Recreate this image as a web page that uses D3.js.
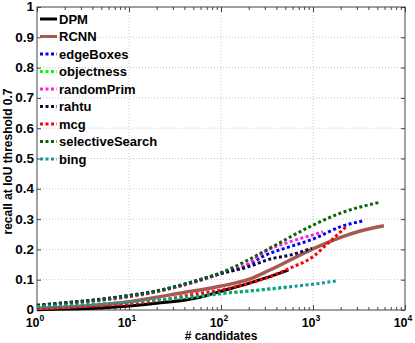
<!DOCTYPE html>
<html>
<head>
<meta charset="utf-8">
<script src="https://cdn.jsdelivr.net/npm/d3@7"></script>
<style>
  body { margin: 0; background: #fff; }
  text { font-family: "Liberation Sans", Arial, sans-serif; font-weight: bold; fill: #000; }
</style>
</head>
<body>
<div class="container"></div>
<script>
// values
const methods = ["DPM", "RCNN", "edgeBoxes", "objectness", "randomPrim", "rahtu", "mcg", "selectiveSearch", "bing"];

const dpmN = [1, 2, 5, 10, 20, 59, 100, 200, 300, 540];
const dpmRecall = [0.001, 0.003, 0.007, 0.013, 0.022, 0.042, 0.062, 0.088, 0.105, 0.132];

const rcnnN = [1, 2, 5, 10, 20, 40, 59, 100, 200, 340, 1000, 2000, 3200, 5900];
const rcnnRecall = [0.005, 0.009, 0.017, 0.027, 0.042, 0.058, 0.066, 0.079, 0.101, 0.132, 0.202, 0.24, 0.26, 0.278];

const edgeBoxesN = [1, 2, 5, 10, 20, 59, 100, 200, 290, 560, 1000, 2000, 3470];
const edgeBoxesRecall = [0.015, 0.023, 0.035, 0.047, 0.062, 0.099, 0.122, 0.15, 0.178, 0.209, 0.234, 0.275, 0.294];

const objectnessN = [1, 2, 5, 10, 20, 59, 100, 200, 560];
const objectnessRecall = [0.01, 0.013, 0.019, 0.025, 0.032, 0.045, 0.053, 0.062, 0.075];

const randomPrimN = [1, 2, 5, 10, 20, 59, 100, 200, 290, 560, 1000, 1290];
const randomPrimRecall = [0.011, 0.02, 0.032, 0.043, 0.06, 0.097, 0.12, 0.154, 0.19, 0.225, 0.248, 0.258];

const rahtuN = [1, 2, 5, 10, 20, 59, 100, 200, 340, 560, 970];
const rahtuRecall = [0.016, 0.024, 0.036, 0.048, 0.063, 0.1, 0.12, 0.143, 0.168, 0.181, 0.204];

const mcgN = [1, 2, 5, 10, 20, 59, 100, 200, 340, 560, 1000, 1450, 2340];
const mcgRecall = [0.006, 0.009, 0.014, 0.02, 0.03, 0.055, 0.066, 0.088, 0.11, 0.138, 0.176, 0.22, 0.277];

const ssN = [1, 2, 5, 10, 20, 59, 100, 200, 340, 1000, 2000, 5250];
const ssRecall = [0.013, 0.022, 0.034, 0.046, 0.062, 0.1, 0.123, 0.166, 0.204, 0.28, 0.32, 0.355];

const bingN = [1, 2, 5, 10, 20, 59, 100, 200, 560, 1000, 1880];
const bingRecall = [0.011, 0.014, 0.02, 0.026, 0.033, 0.047, 0.055, 0.063, 0.077, 0.085, 0.097];

const yTicks = [0, 0.1, 0.2, 0.3, 0.4, 0.5, 0.6, 0.7, 0.8, 0.9, 1];
const xTicks = [1, 10, 100, 1000, 10000];

const colors = ["#000000", "#a35a50", "#0000ff", "#00ff00", "#ff22dd", "#0a0a40", "#ff0000", "#0a640a", "#129999"];
const dotted = [false, false, true, true, true, true, true, true, true];

const series = [
    [dpmN, dpmRecall], [rcnnN, rcnnRecall], [edgeBoxesN, edgeBoxesRecall],
    [objectnessN, objectnessRecall], [randomPrimN, randomPrimRecall], [rahtuN, rahtuRecall],
    [mcgN, mcgRecall], [ssN, ssRecall], [bingN, bingRecall]
].map((s, i) => ({
    name: methods[i],
    points: s[0].map((n, j) => ({n: n, r: s[1][j]}))
}));

const W = 415, H = 343;
const margin = {top: 7, right: 10, bottom: 33, left: 37};

const svg = d3.select('.container')
    .append('svg')
    .attr('width', W)
    .attr('height', H);

const xScale = d3.scaleLog()
    .domain([1, 10000])
    .range([margin.left, W - margin.right]);

const yScale = d3.scaleLinear()
    .domain([0, 1])
    .range([H - margin.bottom, margin.top]);

const x0 = xScale.range()[0], x1 = xScale.range()[1];
const y0 = yScale.range()[0], y1 = yScale.range()[1];

// grid
svg.append('g')
    .selectAll('line')
    .data(yTicks.slice(1, -1))
    .join('line')
    .attr('x1', x0).attr('x2', x1)
    .attr('y1', d => yScale(d)).attr('y2', d => yScale(d))
    .attr('stroke', '#c8c8c8')
    .attr('stroke-dasharray', '1,2');

svg.append('g')
    .selectAll('line')
    .data(xTicks.slice(1, -1))
    .join('line')
    .attr('x1', d => xScale(d)).attr('x2', d => xScale(d))
    .attr('y1', y0).attr('y2', y1)
    .attr('stroke', '#c8c8c8')
    .attr('stroke-dasharray', '1,2');

// axes (ticks pointing inward, box all round)
const minor = [];
for (let e = 0; e < 4; e++) for (let k = 2; k < 10; k++) minor.push(k * Math.pow(10, e));

const bottomAxis = d3.axisBottom(xScale).tickValues(xTicks).tickSize(-5).tickFormat('');
const topAxis = d3.axisTop(xScale).tickValues(xTicks).tickSize(-5).tickFormat('');
const bottomMinor = d3.axisBottom(xScale).tickValues(minor).tickSize(-3).tickFormat('');
const topMinor = d3.axisTop(xScale).tickValues(minor).tickSize(-3).tickFormat('');
const leftAxis = d3.axisLeft(yScale).tickValues(yTicks).tickSize(-4).tickFormat('');
const rightAxis = d3.axisRight(yScale).tickValues(yTicks).tickSize(-4).tickFormat('');

const axisColor = '#444';
[[bottomAxis, 0, y0], [bottomMinor, 0, y0], [topAxis, 0, y1], [topMinor, 0, y1],
 [leftAxis, x0, 0], [rightAxis, x1, 0]].forEach(([ax, tx, ty]) => {
    const g = svg.append('g').attr('transform', `translate(${tx},${ty})`).call(ax);
    g.select('.domain').remove();
    g.selectAll('line').attr('stroke', axisColor);
});

svg.append('rect')
    .attr('x', x0).attr('y', y1)
    .attr('width', x1 - x0).attr('height', y0 - y1)
    .attr('fill', 'none')
    .attr('stroke', axisColor);

// tick labels
svg.append('g')
    .selectAll('text')
    .data(yTicks)
    .join('text')
    .attr('x', x0 - 3)
    .attr('y', d => yScale(d))
    .attr('dy', '0.33em')
    .attr('text-anchor', 'end')
    .style('font-size', '13.5px')
    .text(d => d === 0 || d === 1 ? d3.format('d')(d) : d3.format('.1f')(d));

const xLab = svg.append('g')
    .selectAll('text')
    .data(xTicks)
    .join('text')
    .attr('x', d => xScale(d) - 2)
    .attr('y', y0 + 17)
    .attr('text-anchor', 'middle')
    .style('font-size', '12.5px');
xLab.append('tspan').text('10');
xLab.append('tspan')
    .attr('dy', '-6')
    .style('font-size', '8.5px')
    .text(d => Math.round(Math.log10(d)));

svg.append('text')
    .attr('x', (x0 + x1) / 2)
    .attr('y', H - 3)
    .attr('text-anchor', 'middle')
    .style('font-size', '12px')
    .text('# candidates');

svg.append('text')
    .attr('transform', `translate(12,${(y0 + y1) / 2 + 3}) rotate(-90)`)
    .attr('text-anchor', 'middle')
    .style('font-size', '12px')
    .text('recall at IoU threshold 0.7');

// curves
const line = d3.line()
    .x(d => xScale(d.n))
    .y(d => yScale(d.r))
    .curve(d3.curveMonotoneX);

svg.append('g')
    .selectAll('path')
    .data(series)
    .join('path')
    .attr('d', d => line(d.points))
    .attr('fill', 'none')
    .attr('stroke', (d, i) => colors[i])
    .attr('stroke-width', (d, i) => dotted[i] ? 3 : (i === 1 ? 3.5 : 3))
    .attr('stroke-dasharray', (d, i) => dotted[i] ? '3,2.5' : null);

// legend
const legend = svg.append('g');
const row = 17.5, ly = 19;
legend.selectAll('line')
    .data(methods)
    .join('line')
    .attr('x1', 40).attr('x2', 57)
    .attr('y1', (d, i) => ly + i * row).attr('y2', (d, i) => ly + i * row)
    .attr('stroke', (d, i) => colors[i])
    .attr('stroke-width', 3)
    .attr('stroke-dasharray', (d, i) => dotted[i] ? '3,2.5' : null);

legend.selectAll('text')
    .data(methods)
    .join('text')
    .attr('x', 59)
    .attr('y', (d, i) => ly + i * row)
    .attr('dy', '0.36em')
    .style('font-size', '13px')
    .text(d => d);
</script>
</body>
</html>
